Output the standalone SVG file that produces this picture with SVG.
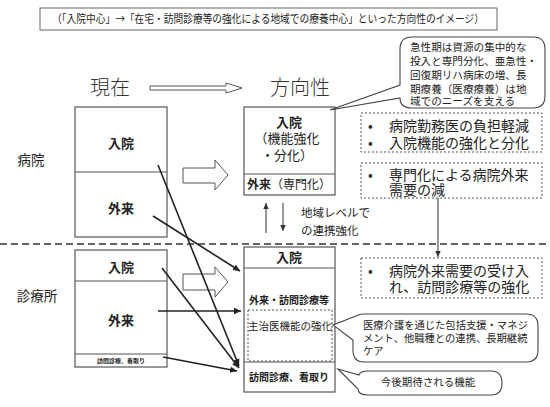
<svg xmlns="http://www.w3.org/2000/svg" width="550" height="407" viewBox="0 0 550 407">
<style>
text{font-family:"Noto Sans CJK JP","Noto Sans CJK SC",sans-serif;fill:#222}
.box{fill:#fff;stroke:#555;stroke-width:1.2}
.dot{fill:none;stroke:#555;stroke-width:1;stroke-dasharray:2 2}
.b{font-weight:bold}
.c{text-anchor:middle}
.lt{font-weight:300;fill:#333}
.con{stroke:#222;stroke-width:1.6;fill:none;marker-end:url(#ah)}
.thin{stroke:#333;stroke-width:1;fill:none;marker-end:url(#ahs)}
.call{fill:#fff;stroke:#444;stroke-width:1.1}
</style>
<defs>
<marker id="ah" markerWidth="8" markerHeight="8" refX="7" refY="4" orient="auto" markerUnits="userSpaceOnUse"><path d="M0,0.8 L7,4 L0,7.2 Z" fill="#222"/></marker>
<marker id="ahs" markerWidth="7" markerHeight="7" refX="6" refY="3.5" orient="auto" markerUnits="userSpaceOnUse"><path d="M0,0.8 L6,3.5 L0,6.2 Z" fill="#333"/></marker>
</defs>
<rect width="550" height="407" fill="#fff"/>

<g id="title">
<rect x="40" y="8" width="457" height="22" fill="#fff" stroke="#666" stroke-width="1"/>
<text x="268" y="23" class="c" font-size="11" textLength="432" lengthAdjust="spacingAndGlyphs">（「入院中心」→「在宅・訪問診療等の強化による地域での療養中心」といった方向性のイメージ）</text>
</g>

<g id="header">
<text x="110" y="95" class="c lt" font-size="20">現在</text>
<polygon points="150,86 226,86 226,83 242,88 226,93 226,90 150,90" fill="#fff" stroke="#555" stroke-width="1"/>
<text x="300" y="95" class="c lt" font-size="20">方向性</text>
</g>

<g id="labels">
<text x="31" y="165" class="c" font-size="13.5">病院</text>
<text x="37" y="301" class="c" font-size="13.5">診療所</text>
</g>

<line id="divider" x1="0" y1="244" x2="550" y2="244" stroke="#333" stroke-width="1.5" stroke-dasharray="7 4"/>

<g id="hosp-now">
<rect x="75" y="107" width="92" height="130" class="box"/>
<line x1="75" y1="172" x2="167" y2="172" stroke="#555" stroke-width="1.2"/>
<text x="121" y="148" class="c b" font-size="13">入院</text>
<text x="121" y="213" class="c b" font-size="13">外来</text>
</g>

<g id="hosp-arrow">
<polygon points="183,168 215,168 215,160 228,175 215,190 215,183 183,183" fill="#fff" stroke="#555" stroke-width="1"/>
</g>

<g id="hosp-future">
<rect x="244" y="107" width="91" height="88" class="box"/>
<line x1="244" y1="174" x2="335" y2="174" stroke="#555" stroke-width="1.2"/>
<text class="c" font-size="13"><tspan x="289" y="127" class="b">入院</tspan><tspan x="287" y="143">（機能強化</tspan><tspan x="287" y="160">・分化）</tspan></text>
<text x="289" y="189" class="c" font-size="12"><tspan class="b">外来</tspan>（専門化）</text>
</g>

<g id="callout-acute">
<path d="M412,37 H533 Q545,37 545,49 V96 Q545,108 533,108 H412 Q400,108 400,98 L330,110 L400,85 V49 Q400,37 412,37 Z" class="call"/>
<text font-size="10.6"><tspan x="410" y="51">急性期は資源の集中的な</tspan><tspan x="410" y="65">投入と専門分化、亜急性・</tspan><tspan x="410" y="79">回復期リハ病床の増、長</tspan><tspan x="410" y="93">期療養（医療療養）は地</tspan><tspan x="410" y="105">域でのニーズを支える</tspan></text>
</g>

<g id="note-burden">
<rect x="361" y="113" width="181" height="39" class="dot"/>
<text font-size="14"><tspan x="368" y="131">•</tspan><tspan x="389" y="131">病院勤務医の負担軽減</tspan><tspan x="368" y="148">•</tspan><tspan x="389" y="148">入院機能の強化と分化</tspan></text>
</g>

<g id="note-outpatient">
<rect x="361" y="163" width="181" height="35" class="dot"/>
<text font-size="14"><tspan x="368" y="180">•</tspan><tspan x="389" y="180">専門化による病院外来</tspan><tspan x="389" y="195">需要の減</tspan></text>
</g>

<g id="cooperation">
<text font-size="11.5"><tspan x="301" y="217">地域レベルで</tspan><tspan x="301" y="235">の連携強化</tspan></text>
</g>

<g id="clinic-now">
<rect x="75" y="250" width="92" height="117" class="box"/>
<line x1="75" y1="281" x2="167" y2="281" stroke="#555" stroke-width="1.2"/>
<line x1="75" y1="354" x2="167" y2="354" stroke="#555" stroke-width="1.2"/>
<text x="121" y="272" class="c b" font-size="13">入院</text>
<text x="121" y="325" class="c b" font-size="13">外来</text>
<text x="121" y="363" class="c b" font-size="6">訪問診療、看取り</text>
</g>

<g id="clinic-arrow">
<polygon points="183,274 215,274 215,267 228,282 215,297 215,290 183,290" fill="#fff" stroke="#555" stroke-width="1"/>
</g>

<g id="clinic-future">
<rect x="244" y="247" width="91" height="145" class="box"/>
<line x1="244" y1="268" x2="335" y2="268" stroke="#555" stroke-width="1.2"/>
<line x1="244" y1="362" x2="335" y2="362" stroke="#555" stroke-width="1.2"/>
<text x="289" y="262" class="c b" font-size="13">入院</text>
<text x="289" y="304" class="c b" font-size="10">外来・訪問診療等</text>
<rect x="248" y="310" width="84" height="51" class="dot"/>
<text x="290" y="330" class="c" font-size="10.5">主治医機能の強化</text>
<text x="289" y="381" class="c b" font-size="10">訪問診療、看取り</text>
</g>

<g id="note-accept">
<rect x="361" y="258" width="181" height="40" class="dot"/>
<text font-size="14"><tspan x="368" y="276">•</tspan><tspan x="389" y="276">病院外来需要の受け入</tspan><tspan x="389" y="292">れ、訪問診療等の強化</tspan></text>
</g>

<g id="callout-care">
<path d="M364,314 H526 Q538,314 538,326 V350 Q538,362 526,362 H364 Q353,362 353,350 V340 L333,325 L356,316 Q359,314 364,314 Z" class="call"/>
<text font-size="10.3"><tspan x="363" y="329">医療介護を通じた包括支援・マネジ</tspan><tspan x="363" y="342">メント、他職種との連携、長期継続</tspan><tspan x="363" y="355">ケア</tspan></text>
</g>

<g id="callout-future">
<path d="M368,371 H491 Q502,371 502,383 Q502,395 491,395 H368 Q358,395 358,389 L338,369 L359,375 Q360,371 368,371 Z" class="call"/>
<text x="428" y="386" class="c" font-size="10.5">今後期待される機能</text>
</g>

<g id="connectors">
<line x1="158" y1="165" x2="239" y2="366" class="con"/>
<line x1="153" y1="216" x2="240" y2="271" class="con"/>
<line x1="162" y1="268" x2="239" y2="368" class="con"/>
<line x1="158" y1="311" x2="241" y2="311" class="con"/>
<line x1="163" y1="357" x2="237" y2="371" class="con"/>
<line x1="266" y1="233" x2="266" y2="203" class="thin"/>
<line x1="283" y1="203" x2="283" y2="231" class="thin"/>
<line x1="438" y1="198" x2="438" y2="257" class="thin"/>
</g>
</svg>
